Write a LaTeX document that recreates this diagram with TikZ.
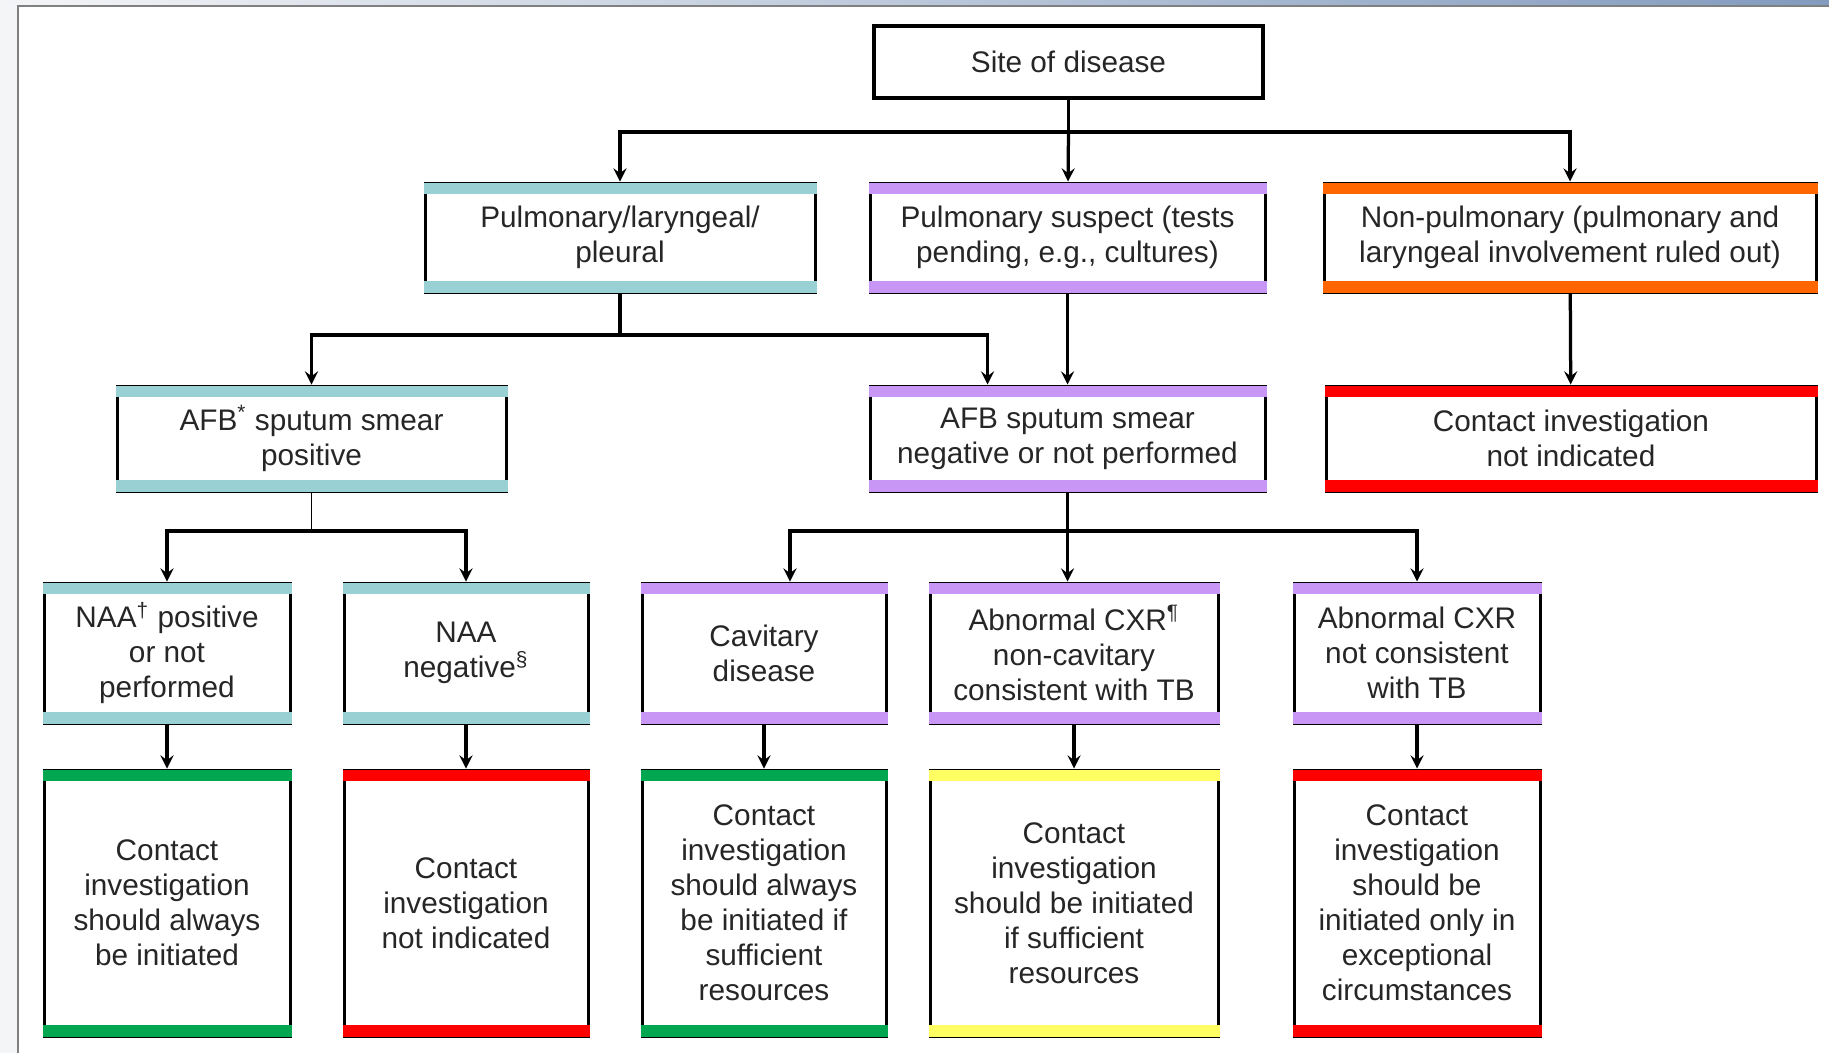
\documentclass[tikz,border=0pt]{standalone}
\usepackage{fontspec}
\setmainfont{Liberation Sans}
\usepackage{tikz}
\definecolor{tealbar}{RGB}{152,208,212}
\definecolor{lilac}{RGB}{200,150,245}
\definecolor{orangebar}{RGB}{255,102,0}
\definecolor{redbar}{RGB}{255,0,0}
\definecolor{greenbar}{RGB}{0,166,80}
\definecolor{yellowbar}{RGB}{255,255,100}
\definecolor{framegray}{RGB}{244,245,247}
\definecolor{framebar}{RGB}{130,155,190}
\newcommand{\bars}[2]{\draw[line width=4.6pt, #2]
    ([yshift=-2.7pt]#1.north west) -- ([yshift=-2.7pt]#1.north east)
    ([yshift=2.7pt]#1.south west) -- ([yshift=2.7pt]#1.south east);}
\tikzstyle{panel}=[rectangle, draw, line width=1.2pt, align=center, inner sep=2pt, font=\fontsize{11.9}{14}\selectfont, text=black!85]
\tikzstyle{lvltwo}=[panel, minimum height=43.6pt]
\tikzstyle{lvlthree}=[panel, minimum height=42pt]
\tikzstyle{lvlfour}=[panel, minimum height=56pt]
\tikzstyle{result}=[panel, minimum height=106.4pt]

\begin{document}
\begin{tikzpicture}[x=4pt, y=-4pt, line width=1.3pt, >=stealth]
                    \useasboundingbox (0, 0) rectangle (182.9, 105.3);
                    \fill[framegray] (0, 0) rectangle (1.7, 105.3);
                    \shade[left color=framegray, right color=framebar] (0, 0) rectangle (182.9, 0.45);
                    \draw[gray, line width=0.8pt] (1.75, 105.3) -- (1.75, 0.55) -- (182.9, 0.55);
                    \node[panel, line width=1.6pt, minimum width=155.6pt, minimum height=28.8pt] (site) at (106.85, 6.2) {Site of disease};
                    \node[lvltwo, minimum width=156pt] (pul) at (62.0, 23.75) {Pulmonary/laryngeal/\\pleural};
                    \node[lvltwo, minimum width=158pt] (sus) at (106.75, 23.75) {Pulmonary suspect (tests\\pending, e.g., cultures)};
                    \node[lvltwo, minimum width=196.8pt] (non) at (157.0, 23.75) {Non-pulmonary (pulmonary and\\laryngeal involvement ruled out)};
                    \node[lvlthree, minimum width=155.6pt] (afbp) at (31.15, 43.85) {AFB\textsuperscript{*} sputum smear\\positive};
                    \node[lvlthree, minimum width=158pt] (afbn) at (106.75, 43.85) {AFB sputum smear\\negative or not performed};
                    \node[lvlthree, minimum width=196pt] (cin) at (157.1, 43.85) {Contact investigation\\not indicated};
                    \node[lvlfour, minimum width=98.4pt] (naap) at (16.7, 65.3) {NAA\textsuperscript{†} positive\\or not\\performed};
                    \node[lvlfour, minimum width=97.6pt] (naan) at (46.6, 65.3) {NAA\\negative\textsuperscript{§}};
                    \node[lvlfour, minimum width=97.6pt] (cav) at (76.4, 65.3) {Cavitary\\disease};
                    \node[lvlfour, minimum width=115.2pt] (ncav) at (107.4, 65.3) {Abnormal CXR\textsuperscript{¶}\\non-cavitary\\consistent with TB};
                    \node[lvlfour, minimum width=98.4pt] (ncon) at (141.7, 65.3) {Abnormal CXR\\not consistent\\with TB};
                    \node[result, minimum width=98.4pt] (r1) at (16.7, 90.3) {Contact\\investigation\\should always\\be initiated};
                    \node[result, minimum width=97.6pt] (r2) at (46.6, 90.3) {Contact\\investigation\\not indicated};
                    \node[result, minimum width=97.6pt] (r3) at (76.4, 90.3) {Contact\\investigation\\should always\\be initiated if\\sufficient\\resources};
                    \node[result, minimum width=115.2pt] (r4) at (107.4, 90.3) {Contact\\investigation\\should be initiated\\if sufficient\\resources};
                    \node[result, minimum width=98.4pt] (r5) at (141.7, 90.3) {Contact\\investigation\\should be\\initiated only in\\exceptional\\circumstances};
                    \bars{pul}{tealbar} \bars{sus}{lilac} \bars{non}{orangebar}
                    \bars{afbp}{tealbar} \bars{afbn}{lilac} \bars{cin}{redbar}
                    \bars{naap}{tealbar} \bars{naan}{tealbar} \bars{cav}{lilac}
                    \bars{ncav}{lilac} \bars{ncon}{lilac}
                    \bars{r1}{greenbar} \bars{r2}{redbar} \bars{r3}{greenbar}
                    \bars{r4}{yellowbar} \bars{r5}{redbar}
                    \coordinate (b1) at (106.85, 13.2);
                    \coordinate (b2) at (62.0, 33.5);
                    \coordinate (b3) at (31.15, 53.1);
                    \coordinate (b4) at (106.75, 53.1);
                    \draw (site) -- (b1);
                    \draw[->] (b1) -| (pul);
                    \draw[->] (b1) -- (sus);
                    \draw[->] (b1) -| (non);
                    \draw (pul) -- (b2);
                    \draw[->] (b2) -| (afbp);
                    \draw[->] (b2) -| ([xshift=-32pt]afbn.north);
                    \draw[->] (sus) -- (afbn);
                    \draw[->] (non) -- (cin);
                    \draw[line width=0.6pt] (afbp) -- (b3);
                    \draw[->] (b3) -| (naap);
                    \draw[->] (b3) -| (naan);
                    \draw (afbn) -- (b4);
                    \draw[->] (b4) -| ([xshift=10.4pt]cav.north);
                    \draw[->] (b4) -- (b4 |- ncav.north);
                    \draw[->] (b4) -| (ncon);
                    \draw[->] (naap) -- (r1);
                    \draw[->] (naan) -- (r2);
                    \draw[->] (cav) -- (r3);
                    \draw[->] (ncav) -- (r4);
                    \draw[->] (ncon) -- (r5);
                \end{tikzpicture}
\end{document}
